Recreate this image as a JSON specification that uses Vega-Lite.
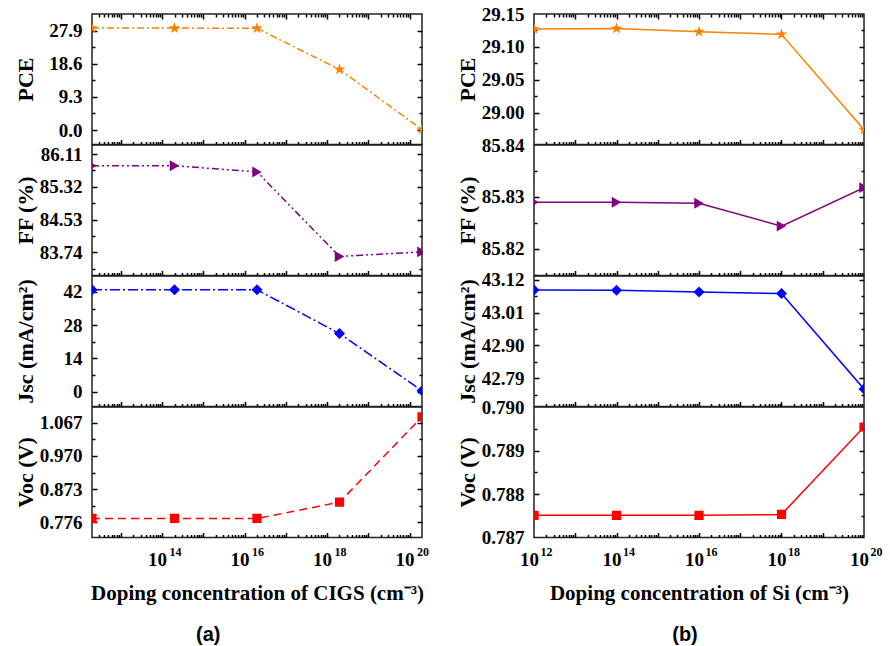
{
  "$schema": "https://vega.github.io/schema/vega-lite/v6.json",
  "padding": {"left": 13, "top": 4, "right": 5, "bottom": 2},
  "datasets": {
    "a": [
      {"conc": 2e12, "PCE": 28.6, "FF": 85.83, "Jsc": 42.95, "Voc": 0.7876},
      {"conc": 2e14, "PCE": 28.6, "FF": 85.83, "Jsc": 42.95, "Voc": 0.7876},
      {"conc": 2e16, "PCE": 28.55, "FF": 85.68, "Jsc": 42.9, "Voc": 0.7876},
      {"conc": 2e18, "PCE": 17.0, "FF": 83.64, "Jsc": 24.5, "Voc": 0.835},
      {"conc": 2e20, "PCE": 0.15, "FF": 83.75, "Jsc": 0.4, "Voc": 1.084}
    ],
    "b": [
      {"conc": 1e12, "PCE": 29.127, "FF": 85.829, "Jsc": 43.086, "Voc": 0.78751},
      {"conc": 1e14, "PCE": 29.128, "FF": 85.829, "Jsc": 43.085, "Voc": 0.78751},
      {"conc": 1e16, "PCE": 29.123, "FF": 85.8288, "Jsc": 43.079, "Voc": 0.78751},
      {"conc": 1e18, "PCE": 29.119, "FF": 85.8244, "Jsc": 43.074, "Voc": 0.78753},
      {"conc": 1e20, "PCE": 28.974, "FF": 85.8318, "Jsc": 42.754, "Voc": 0.78954}
    ]
  },
  "hconcat": [
    {
      "vconcat": [
        {
          "width": 330, "height": 130.5, "data": {"name": "a"},
          "layer": [
            {"mark": {"type": "line", "color": "#FF8000", "strokeWidth": 1.5, "strokeDash": [7, 3, 2, 3], "clip": true},
             "encoding": {
               "x": {"field": "conc", "type": "quantitative", "scale": {"type": "log", "domain": [2e12, 2e20]},
                     "axis": {"orient": "bottom", "labels": false, "title": null, "tickSize": 3, "offset": -3, "values": [3e12,4e12,5e12,6e12,7e12,8e12,9e12,2e13,3e13,4e13,5e13,6e13,7e13,8e13,9e13,2e14,3e14,4e14,5e14,6e14,7e14,8e14,9e14,2e15,3e15,4e15,5e15,6e15,7e15,8e15,9e15,2e16,3e16,4e16,5e16,6e16,7e16,8e16,9e16,2e17,3e17,4e17,5e17,6e17,7e17,8e17,9e17,2e18,3e18,4e18,5e18,6e18,7e18,8e18,9e18,2e19,3e19,4e19,5e19,6e19,7e19,8e19,9e19]}},
               "y": {"field": "PCE", "type": "quantitative", "scale": {"domain": [-4.05, 32.55], "nice": false, "zero": false},
                     "axis": {"orient": "left", "labels": false, "title": null, "tickSize": 3, "offset": -3, "values": [4.65, 13.95, 23.25]}}
             }},
            {"mark": {"type": "point", "shape": "M0,-1L0.2245,-0.309L0.9511,-0.309L0.3633,0.118L0.5878,0.809L0,0.382L-0.5878,0.809L-0.3633,0.118L-0.9511,-0.309L-0.2245,-0.309Z", "filled": true, "opacity": 1, "size": 150, "color": "#FF8000", "clip": true},
             "encoding": {
               "x": {"field": "conc", "type": "quantitative", "scale": {"type": "log", "domain": [2e12, 2e20]},
                     "axis": {"orient": "bottom", "labels": false, "title": null, "tickSize": 5, "offset": -5, "values": [1e13,1e14,1e15,1e16,1e17,1e18,1e19,1e20]}},
               "y": {"field": "PCE", "type": "quantitative", "scale": {"domain": [-4.05, 32.55], "nice": false, "zero": false},
                     "axis": {"orient": "left", "labels": false, "title": null, "tickSize": 5, "offset": -5, "values": [0, 9.3, 18.6, 27.9]}}
             }},
            {"mark": {"type": "point", "opacity": 0, "size": 1},
             "encoding": {
               "x": {"field": "conc", "type": "quantitative", "scale": {"type": "log", "domain": [2e12, 2e20]},
                     "axis": {"orient": "top", "labels": false, "title": null, "tickSize": 5, "offset": -5, "values": [1e13,1e14,1e15,1e16,1e17,1e18,1e19,1e20]}},
               "y": {"field": "PCE", "type": "quantitative", "scale": {"domain": [-4.05, 32.55], "nice": false, "zero": false},
                     "axis": {"orient": "right", "labels": false, "title": null, "tickSize": 5, "offset": -5, "values": [0, 9.3, 18.6, 27.9]}}
             }},
            {"mark": {"type": "point", "opacity": 0, "size": 1},
             "encoding": {
               "x": {"field": "conc", "type": "quantitative", "scale": {"type": "log", "domain": [2e12, 2e20]},
                     "axis": {"orient": "top", "labels": false, "title": null, "tickSize": 3, "offset": -3, "values": [3e12,4e12,5e12,6e12,7e12,8e12,9e12,2e13,3e13,4e13,5e13,6e13,7e13,8e13,9e13,2e14,3e14,4e14,5e14,6e14,7e14,8e14,9e14,2e15,3e15,4e15,5e15,6e15,7e15,8e15,9e15,2e16,3e16,4e16,5e16,6e16,7e16,8e16,9e16,2e17,3e17,4e17,5e17,6e17,7e17,8e17,9e17,2e18,3e18,4e18,5e18,6e18,7e18,8e18,9e18,2e19,3e19,4e19,5e19,6e19,7e19,8e19,9e19]}},
               "y": {"field": "PCE", "type": "quantitative", "scale": {"domain": [-4.05, 32.55], "nice": false, "zero": false},
                     "axis": {"orient": "right", "labels": false, "title": null, "tickSize": 3, "offset": -3, "values": [4.65, 13.95, 23.25]}}
             }},
            {"mark": {"type": "point", "opacity": 0, "size": 1},
             "encoding": {
               "x": {"field": "conc", "type": "quantitative", "scale": {"type": "log", "domain": [2e12, 2e20]}, "axis": null},
               "y": {"field": "PCE", "type": "quantitative", "scale": {"domain": [-4.05, 32.55], "nice": false, "zero": false},
                     "axis": {"orient": "left", "ticks": false, "title": "PCE", "format": ".1f", "values": [0, 9.3, 18.6, 27.9]}}
             }}
          ],
          "resolve": {"axis": {"x": "independent", "y": "independent"}}
        },
        {
          "width": 330, "height": 130.5, "data": {"name": "a"},
          "layer": [
            {"mark": {"type": "line", "color": "#800080", "strokeWidth": 1.5, "strokeDash": [7, 3, 2, 3, 2, 3], "clip": true},
             "encoding": {
               "x": {"field": "conc", "type": "quantitative", "scale": {"type": "log", "domain": [2e12, 2e20]},
                     "axis": {"orient": "bottom", "labels": false, "title": null, "tickSize": 3, "offset": -3, "values": [3e12,4e12,5e12,6e12,7e12,8e12,9e12,2e13,3e13,4e13,5e13,6e13,7e13,8e13,9e13,2e14,3e14,4e14,5e14,6e14,7e14,8e14,9e14,2e15,3e15,4e15,5e15,6e15,7e15,8e15,9e15,2e16,3e16,4e16,5e16,6e16,7e16,8e16,9e16,2e17,3e17,4e17,5e17,6e17,7e17,8e17,9e17,2e18,3e18,4e18,5e18,6e18,7e18,8e18,9e18,2e19,3e19,4e19,5e19,6e19,7e19,8e19,9e19]}},
               "y": {"field": "FF", "type": "quantitative", "scale": {"domain": [83.18, 86.33], "nice": false, "zero": false},
                     "axis": {"orient": "left", "labels": false, "title": null, "tickSize": 3, "offset": -3, "values": [83.345, 84.135, 84.925, 85.715]}}
             }},
            {"mark": {"type": "point", "shape": "triangle-right", "filled": true, "opacity": 1, "size": 120, "color": "#800080", "clip": true},
             "encoding": {
               "x": {"field": "conc", "type": "quantitative", "scale": {"type": "log", "domain": [2e12, 2e20]},
                     "axis": {"orient": "bottom", "labels": false, "title": null, "tickSize": 5, "offset": -5, "values": [1e13,1e14,1e15,1e16,1e17,1e18,1e19,1e20]}},
               "y": {"field": "FF", "type": "quantitative", "scale": {"domain": [83.18, 86.33], "nice": false, "zero": false},
                     "axis": {"orient": "left", "labels": false, "title": null, "tickSize": 5, "offset": -5, "values": [83.74, 84.53, 85.32, 86.11]}}
             }},
            {"mark": {"type": "point", "opacity": 0, "size": 1},
             "encoding": {
               "x": {"field": "conc", "type": "quantitative", "scale": {"type": "log", "domain": [2e12, 2e20]}, "axis": null},
               "y": {"field": "FF", "type": "quantitative", "scale": {"domain": [83.18, 86.33], "nice": false, "zero": false},
                     "axis": {"orient": "right", "labels": false, "title": null, "tickSize": 5, "offset": -5, "values": [83.74, 84.53, 85.32, 86.11]}}
             }},
            {"mark": {"type": "point", "opacity": 0, "size": 1},
             "encoding": {
               "x": {"field": "conc", "type": "quantitative", "scale": {"type": "log", "domain": [2e12, 2e20]}, "axis": null},
               "y": {"field": "FF", "type": "quantitative", "scale": {"domain": [83.18, 86.33], "nice": false, "zero": false},
                     "axis": {"orient": "right", "labels": false, "title": null, "tickSize": 3, "offset": -3, "values": [83.345, 84.135, 84.925, 85.715]}}
             }},
            {"mark": {"type": "point", "opacity": 0, "size": 1},
             "encoding": {
               "x": {"field": "conc", "type": "quantitative", "scale": {"type": "log", "domain": [2e12, 2e20]}, "axis": null},
               "y": {"field": "FF", "type": "quantitative", "scale": {"domain": [83.18, 86.33], "nice": false, "zero": false},
                     "axis": {"orient": "left", "ticks": false, "title": "FF (%)", "format": ".2f", "values": [83.74, 84.53, 85.32, 86.11]}}
             }}
          ],
          "resolve": {"axis": {"x": "independent", "y": "independent"}}
        },
        {
          "width": 330, "height": 130.5, "data": {"name": "a"},
          "layer": [
            {"mark": {"type": "line", "color": "#0000FF", "strokeWidth": 1.5, "strokeDash": [10, 3, 2, 3], "clip": true},
             "encoding": {
               "x": {"field": "conc", "type": "quantitative", "scale": {"type": "log", "domain": [2e12, 2e20]},
                     "axis": {"orient": "bottom", "labels": false, "title": null, "tickSize": 3, "offset": -3, "values": [3e12,4e12,5e12,6e12,7e12,8e12,9e12,2e13,3e13,4e13,5e13,6e13,7e13,8e13,9e13,2e14,3e14,4e14,5e14,6e14,7e14,8e14,9e14,2e15,3e15,4e15,5e15,6e15,7e15,8e15,9e15,2e16,3e16,4e16,5e16,6e16,7e16,8e16,9e16,2e17,3e17,4e17,5e17,6e17,7e17,8e17,9e17,2e18,3e18,4e18,5e18,6e18,7e18,8e18,9e18,2e19,3e19,4e19,5e19,6e19,7e19,8e19,9e19]}},
               "y": {"field": "Jsc", "type": "quantitative", "scale": {"domain": [-6.2, 48.7], "nice": false, "zero": false},
                     "axis": {"orient": "left", "labels": false, "title": null, "tickSize": 3, "offset": -3, "values": [7, 21, 35]}}
             }},
            {"mark": {"type": "point", "shape": "diamond", "filled": true, "opacity": 1, "size": 120, "color": "#0000FF", "clip": true},
             "encoding": {
               "x": {"field": "conc", "type": "quantitative", "scale": {"type": "log", "domain": [2e12, 2e20]},
                     "axis": {"orient": "bottom", "labels": false, "title": null, "tickSize": 5, "offset": -5, "values": [1e13,1e14,1e15,1e16,1e17,1e18,1e19,1e20]}},
               "y": {"field": "Jsc", "type": "quantitative", "scale": {"domain": [-6.2, 48.7], "nice": false, "zero": false},
                     "axis": {"orient": "left", "labels": false, "title": null, "tickSize": 5, "offset": -5, "values": [0, 14, 28, 42]}}
             }},
            {"mark": {"type": "point", "opacity": 0, "size": 1},
             "encoding": {
               "x": {"field": "conc", "type": "quantitative", "scale": {"type": "log", "domain": [2e12, 2e20]}, "axis": null},
               "y": {"field": "Jsc", "type": "quantitative", "scale": {"domain": [-6.2, 48.7], "nice": false, "zero": false},
                     "axis": {"orient": "right", "labels": false, "title": null, "tickSize": 5, "offset": -5, "values": [0, 14, 28, 42]}}
             }},
            {"mark": {"type": "point", "opacity": 0, "size": 1},
             "encoding": {
               "x": {"field": "conc", "type": "quantitative", "scale": {"type": "log", "domain": [2e12, 2e20]}, "axis": null},
               "y": {"field": "Jsc", "type": "quantitative", "scale": {"domain": [-6.2, 48.7], "nice": false, "zero": false},
                     "axis": {"orient": "right", "labels": false, "title": null, "tickSize": 3, "offset": -3, "values": [7, 21, 35]}}
             }},
            {"mark": {"type": "point", "opacity": 0, "size": 1},
             "encoding": {
               "x": {"field": "conc", "type": "quantitative", "scale": {"type": "log", "domain": [2e12, 2e20]}, "axis": null},
               "y": {"field": "Jsc", "type": "quantitative", "scale": {"domain": [-6.2, 48.7], "nice": false, "zero": false},
                     "axis": {"orient": "left", "ticks": false, "title": "Jsc (mA/cm²)", "format": "d", "values": [0, 14, 28, 42]}}
             }}
          ],
          "resolve": {"axis": {"x": "independent", "y": "independent"}}
        },
        {
          "width": 330, "height": 130.5, "data": {"name": "a"},
          "layer": [
            {"mark": {"type": "line", "color": "#FF0000", "strokeWidth": 1.5, "strokeDash": [8, 5], "clip": true},
             "encoding": {
               "x": {"field": "conc", "type": "quantitative", "scale": {"type": "log", "domain": [2e12, 2e20]},
                     "axis": {"orient": "bottom", "labels": false, "title": null, "tickSize": 3, "offset": -3, "values": [3e12,4e12,5e12,6e12,7e12,8e12,9e12,2e13,3e13,4e13,5e13,6e13,7e13,8e13,9e13,2e14,3e14,4e14,5e14,6e14,7e14,8e14,9e14,2e15,3e15,4e15,5e15,6e15,7e15,8e15,9e15,2e16,3e16,4e16,5e16,6e16,7e16,8e16,9e16,2e17,3e17,4e17,5e17,6e17,7e17,8e17,9e17,2e18,3e18,4e18,5e18,6e18,7e18,8e18,9e18,2e19,3e19,4e19,5e19,6e19,7e19,8e19,9e19]}},
               "y": {"field": "Voc", "type": "quantitative", "scale": {"domain": [0.732, 1.113], "nice": false, "zero": false},
                     "axis": {"orient": "left", "labels": false, "title": null, "tickSize": 3, "offset": -3, "values": [0.8245, 0.9215, 1.0185]}}
             }},
            {"mark": {"type": "point", "shape": "square", "filled": true, "opacity": 1, "size": 85, "color": "#FF0000", "clip": true},
             "encoding": {
               "x": {"field": "conc", "type": "quantitative", "scale": {"type": "log", "domain": [2e12, 2e20]},
                     "axis": {"orient": "bottom", "labels": false, "title": null, "tickSize": 5, "offset": -5, "values": [1e13,1e14,1e15,1e16,1e17,1e18,1e19,1e20]}},
               "y": {"field": "Voc", "type": "quantitative", "scale": {"domain": [0.732, 1.113], "nice": false, "zero": false},
                     "axis": {"orient": "left", "labels": false, "title": null, "tickSize": 5, "offset": -5, "values": [0.776, 0.873, 0.97, 1.067]}}
             }},
            {"mark": {"type": "point", "opacity": 0, "size": 1},
             "encoding": {
               "x": {"field": "conc", "type": "quantitative", "scale": {"type": "log", "domain": [2e12, 2e20]},
                     "axis": {"orient": "bottom", "ticks": false, "title": null, "values": [1e14, 1e16, 1e18, 1e20], "labelExpr": "round(log(datum.value)/LN10) + ''", "labelFontSize": 12, "labelPadding": 9, "labelOffset": 13}},
               "y": {"field": "Voc", "type": "quantitative", "scale": {"domain": [0.732, 1.113], "nice": false, "zero": false},
                     "axis": {"orient": "right", "labels": false, "title": null, "tickSize": 5, "offset": -5, "values": [0.776, 0.873, 0.97, 1.067]}}
             }},
            {"mark": {"type": "point", "opacity": 0, "size": 1},
             "encoding": {
               "x": {"field": "conc", "type": "quantitative", "scale": {"type": "log", "domain": [2e12, 2e20]}, "axis": null},
               "y": {"field": "Voc", "type": "quantitative", "scale": {"domain": [0.732, 1.113], "nice": false, "zero": false},
                     "axis": {"orient": "right", "labels": false, "title": null, "tickSize": 3, "offset": -3, "values": [0.8245, 0.9215, 1.0185]}}
             }},
            {"mark": {"type": "point", "opacity": 0, "size": 1},
             "encoding": {
               "x": {"field": "conc", "type": "quantitative", "scale": {"type": "log", "domain": [2e12, 2e20]},
                     "axis": {"orient": "bottom", "ticks": false, "title": "Doping concentration of CIGS  (cm⁻³)", "values": [1e14, 1e16, 1e18, 1e20], "labelExpr": "'10'", "labelFontSize": 19, "labelPadding": 13, "labelOffset": -5}},
               "y": {"field": "Voc", "type": "quantitative", "scale": {"domain": [0.732, 1.113], "nice": false, "zero": false},
                     "axis": {"orient": "left", "ticks": false, "title": "Voc (V)", "format": ".3f", "values": [0.776, 0.873, 0.97, 1.067]}}
             }}
          ],
          "resolve": {"axis": {"x": "independent", "y": "independent"}}
        }
      ],
      "spacing": 0,
      "bounds": "flush",
      "title": {"text": "(a)", "orient": "bottom", "anchor": "middle", "offset": 21, "dx": -13, "font": "Liberation Sans", "fontSize": 20, "fontWeight": "bold", "color": "black"}
    },
    {
      "vconcat": [
        {
          "width": 330, "height": 130.5, "data": {"name": "b"},
          "layer": [
            {"mark": {"type": "line", "color": "#FF8000", "strokeWidth": 1.5, "clip": true},
             "encoding": {
               "x": {"field": "conc", "type": "quantitative", "scale": {"type": "log", "domain": [1e12, 1e20]},
                     "axis": {"orient": "bottom", "labels": false, "title": null, "tickSize": 3, "offset": -3, "values": [2e12,3e12,4e12,5e12,6e12,7e12,8e12,9e12,2e13,3e13,4e13,5e13,6e13,7e13,8e13,9e13,2e14,3e14,4e14,5e14,6e14,7e14,8e14,9e14,2e15,3e15,4e15,5e15,6e15,7e15,8e15,9e15,2e16,3e16,4e16,5e16,6e16,7e16,8e16,9e16,2e17,3e17,4e17,5e17,6e17,7e17,8e17,9e17,2e18,3e18,4e18,5e18,6e18,7e18,8e18,9e18,2e19,3e19,4e19,5e19,6e19,7e19,8e19,9e19]}},
               "y": {"field": "PCE", "type": "quantitative", "scale": {"domain": [28.9515, 29.15], "nice": false, "zero": false},
                     "axis": {"orient": "left", "labels": false, "title": null, "tickSize": 3, "offset": -3, "values": [28.975, 29.025, 29.075, 29.125]}}
             }},
            {"mark": {"type": "point", "shape": "M0,-1L0.2245,-0.309L0.9511,-0.309L0.3633,0.118L0.5878,0.809L0,0.382L-0.5878,0.809L-0.3633,0.118L-0.9511,-0.309L-0.2245,-0.309Z", "filled": true, "opacity": 1, "size": 150, "color": "#FF8000", "clip": true},
             "encoding": {
               "x": {"field": "conc", "type": "quantitative", "scale": {"type": "log", "domain": [1e12, 1e20]},
                     "axis": {"orient": "bottom", "labels": false, "title": null, "tickSize": 5, "offset": -5, "values": [1e13,1e14,1e15,1e16,1e17,1e18,1e19]}},
               "y": {"field": "PCE", "type": "quantitative", "scale": {"domain": [28.9515, 29.15], "nice": false, "zero": false},
                     "axis": {"orient": "left", "labels": false, "title": null, "tickSize": 5, "offset": -5, "values": [29, 29.05, 29.1]}}
             }},
            {"mark": {"type": "point", "opacity": 0, "size": 1},
             "encoding": {
               "x": {"field": "conc", "type": "quantitative", "scale": {"type": "log", "domain": [1e12, 1e20]},
                     "axis": {"orient": "top", "labels": false, "title": null, "tickSize": 5, "offset": -5, "values": [1e13,1e14,1e15,1e16,1e17,1e18,1e19]}},
               "y": {"field": "PCE", "type": "quantitative", "scale": {"domain": [28.9515, 29.15], "nice": false, "zero": false},
                     "axis": {"orient": "right", "labels": false, "title": null, "tickSize": 5, "offset": -5, "values": [29, 29.05, 29.1]}}
             }},
            {"mark": {"type": "point", "opacity": 0, "size": 1},
             "encoding": {
               "x": {"field": "conc", "type": "quantitative", "scale": {"type": "log", "domain": [1e12, 1e20]},
                     "axis": {"orient": "top", "labels": false, "title": null, "tickSize": 3, "offset": -3, "values": [2e12,3e12,4e12,5e12,6e12,7e12,8e12,9e12,2e13,3e13,4e13,5e13,6e13,7e13,8e13,9e13,2e14,3e14,4e14,5e14,6e14,7e14,8e14,9e14,2e15,3e15,4e15,5e15,6e15,7e15,8e15,9e15,2e16,3e16,4e16,5e16,6e16,7e16,8e16,9e16,2e17,3e17,4e17,5e17,6e17,7e17,8e17,9e17,2e18,3e18,4e18,5e18,6e18,7e18,8e18,9e18,2e19,3e19,4e19,5e19,6e19,7e19,8e19,9e19]}},
               "y": {"field": "PCE", "type": "quantitative", "scale": {"domain": [28.9515, 29.15], "nice": false, "zero": false},
                     "axis": {"orient": "right", "labels": false, "title": null, "tickSize": 3, "offset": -3, "values": [28.975, 29.025, 29.075, 29.125]}}
             }},
            {"mark": {"type": "point", "opacity": 0, "size": 1},
             "encoding": {
               "x": {"field": "conc", "type": "quantitative", "scale": {"type": "log", "domain": [1e12, 1e20]}, "axis": null},
               "y": {"field": "PCE", "type": "quantitative", "scale": {"domain": [28.9515, 29.15], "nice": false, "zero": false},
                     "axis": {"orient": "left", "ticks": false, "title": "PCE", "format": ".2f", "values": [29, 29.05, 29.1, 29.15]}}
             }}
          ],
          "resolve": {"axis": {"x": "independent", "y": "independent"}}
        },
        {
          "width": 330, "height": 130.5, "data": {"name": "b"},
          "layer": [
            {"mark": {"type": "line", "color": "#800080", "strokeWidth": 1.5, "clip": true},
             "encoding": {
               "x": {"field": "conc", "type": "quantitative", "scale": {"type": "log", "domain": [1e12, 1e20]},
                     "axis": {"orient": "bottom", "labels": false, "title": null, "tickSize": 3, "offset": -3, "values": [2e12,3e12,4e12,5e12,6e12,7e12,8e12,9e12,2e13,3e13,4e13,5e13,6e13,7e13,8e13,9e13,2e14,3e14,4e14,5e14,6e14,7e14,8e14,9e14,2e15,3e15,4e15,5e15,6e15,7e15,8e15,9e15,2e16,3e16,4e16,5e16,6e16,7e16,8e16,9e16,2e17,3e17,4e17,5e17,6e17,7e17,8e17,9e17,2e18,3e18,4e18,5e18,6e18,7e18,8e18,9e18,2e19,3e19,4e19,5e19,6e19,7e19,8e19,9e19]}},
               "y": {"field": "FF", "type": "quantitative", "scale": {"domain": [85.8149, 85.84], "nice": false, "zero": false},
                     "axis": {"orient": "left", "labels": false, "title": null, "tickSize": 3, "offset": -3, "values": [85.815, 85.825, 85.835]}}
             }},
            {"mark": {"type": "point", "shape": "triangle-right", "filled": true, "opacity": 1, "size": 120, "color": "#800080", "clip": true},
             "encoding": {
               "x": {"field": "conc", "type": "quantitative", "scale": {"type": "log", "domain": [1e12, 1e20]},
                     "axis": {"orient": "bottom", "labels": false, "title": null, "tickSize": 5, "offset": -5, "values": [1e13,1e14,1e15,1e16,1e17,1e18,1e19]}},
               "y": {"field": "FF", "type": "quantitative", "scale": {"domain": [85.8149, 85.84], "nice": false, "zero": false},
                     "axis": {"orient": "left", "labels": false, "title": null, "tickSize": 5, "offset": -5, "values": [85.82, 85.83]}}
             }},
            {"mark": {"type": "point", "opacity": 0, "size": 1},
             "encoding": {
               "x": {"field": "conc", "type": "quantitative", "scale": {"type": "log", "domain": [1e12, 1e20]}, "axis": null},
               "y": {"field": "FF", "type": "quantitative", "scale": {"domain": [85.8149, 85.84], "nice": false, "zero": false},
                     "axis": {"orient": "right", "labels": false, "title": null, "tickSize": 5, "offset": -5, "values": [85.82, 85.83]}}
             }},
            {"mark": {"type": "point", "opacity": 0, "size": 1},
             "encoding": {
               "x": {"field": "conc", "type": "quantitative", "scale": {"type": "log", "domain": [1e12, 1e20]}, "axis": null},
               "y": {"field": "FF", "type": "quantitative", "scale": {"domain": [85.8149, 85.84], "nice": false, "zero": false},
                     "axis": {"orient": "right", "labels": false, "title": null, "tickSize": 3, "offset": -3, "values": [85.815, 85.825, 85.835]}}
             }},
            {"mark": {"type": "point", "opacity": 0, "size": 1},
             "encoding": {
               "x": {"field": "conc", "type": "quantitative", "scale": {"type": "log", "domain": [1e12, 1e20]}, "axis": null},
               "y": {"field": "FF", "type": "quantitative", "scale": {"domain": [85.8149, 85.84], "nice": false, "zero": false},
                     "axis": {"orient": "left", "ticks": false, "title": "FF (%)", "format": ".2f", "values": [85.82, 85.83, 85.84]}}
             }}
          ],
          "resolve": {"axis": {"x": "independent", "y": "independent"}}
        },
        {
          "width": 330, "height": 130.5, "data": {"name": "b"},
          "layer": [
            {"mark": {"type": "line", "color": "#0000FF", "strokeWidth": 1.5, "clip": true},
             "encoding": {
               "x": {"field": "conc", "type": "quantitative", "scale": {"type": "log", "domain": [1e12, 1e20]},
                     "axis": {"orient": "bottom", "labels": false, "title": null, "tickSize": 3, "offset": -3, "values": [2e12,3e12,4e12,5e12,6e12,7e12,8e12,9e12,2e13,3e13,4e13,5e13,6e13,7e13,8e13,9e13,2e14,3e14,4e14,5e14,6e14,7e14,8e14,9e14,2e15,3e15,4e15,5e15,6e15,7e15,8e15,9e15,2e16,3e16,4e16,5e16,6e16,7e16,8e16,9e16,2e17,3e17,4e17,5e17,6e17,7e17,8e17,9e17,2e18,3e18,4e18,5e18,6e18,7e18,8e18,9e18,2e19,3e19,4e19,5e19,6e19,7e19,8e19,9e19]}},
               "y": {"field": "Jsc", "type": "quantitative", "scale": {"domain": [42.695, 43.133], "nice": false, "zero": false},
                     "axis": {"orient": "left", "labels": false, "title": null, "tickSize": 3, "offset": -3, "values": [42.735, 42.845, 42.955, 43.065]}}
             }},
            {"mark": {"type": "point", "shape": "diamond", "filled": true, "opacity": 1, "size": 120, "color": "#0000FF", "clip": true},
             "encoding": {
               "x": {"field": "conc", "type": "quantitative", "scale": {"type": "log", "domain": [1e12, 1e20]},
                     "axis": {"orient": "bottom", "labels": false, "title": null, "tickSize": 5, "offset": -5, "values": [1e13,1e14,1e15,1e16,1e17,1e18,1e19]}},
               "y": {"field": "Jsc", "type": "quantitative", "scale": {"domain": [42.695, 43.133], "nice": false, "zero": false},
                     "axis": {"orient": "left", "labels": false, "title": null, "tickSize": 5, "offset": -5, "values": [42.79, 42.9, 43.01, 43.12]}}
             }},
            {"mark": {"type": "point", "opacity": 0, "size": 1},
             "encoding": {
               "x": {"field": "conc", "type": "quantitative", "scale": {"type": "log", "domain": [1e12, 1e20]}, "axis": null},
               "y": {"field": "Jsc", "type": "quantitative", "scale": {"domain": [42.695, 43.133], "nice": false, "zero": false},
                     "axis": {"orient": "right", "labels": false, "title": null, "tickSize": 5, "offset": -5, "values": [42.79, 42.9, 43.01, 43.12]}}
             }},
            {"mark": {"type": "point", "opacity": 0, "size": 1},
             "encoding": {
               "x": {"field": "conc", "type": "quantitative", "scale": {"type": "log", "domain": [1e12, 1e20]}, "axis": null},
               "y": {"field": "Jsc", "type": "quantitative", "scale": {"domain": [42.695, 43.133], "nice": false, "zero": false},
                     "axis": {"orient": "right", "labels": false, "title": null, "tickSize": 3, "offset": -3, "values": [42.735, 42.845, 42.955, 43.065]}}
             }},
            {"mark": {"type": "point", "opacity": 0, "size": 1},
             "encoding": {
               "x": {"field": "conc", "type": "quantitative", "scale": {"type": "log", "domain": [1e12, 1e20]}, "axis": null},
               "y": {"field": "Jsc", "type": "quantitative", "scale": {"domain": [42.695, 43.133], "nice": false, "zero": false},
                     "axis": {"orient": "left", "ticks": false, "title": "Jsc (mA/cm²)", "format": ".2f", "values": [42.79, 42.9, 43.01, 43.12]}}
             }}
          ],
          "resolve": {"axis": {"x": "independent", "y": "independent"}}
        },
        {
          "width": 330, "height": 130.5, "data": {"name": "b"},
          "layer": [
            {"mark": {"type": "line", "color": "#FF0000", "strokeWidth": 1.5, "clip": true},
             "encoding": {
               "x": {"field": "conc", "type": "quantitative", "scale": {"type": "log", "domain": [1e12, 1e20]},
                     "axis": {"orient": "bottom", "labels": false, "title": null, "tickSize": 3, "offset": -3, "values": [2e12,3e12,4e12,5e12,6e12,7e12,8e12,9e12,2e13,3e13,4e13,5e13,6e13,7e13,8e13,9e13,2e14,3e14,4e14,5e14,6e14,7e14,8e14,9e14,2e15,3e15,4e15,5e15,6e15,7e15,8e15,9e15,2e16,3e16,4e16,5e16,6e16,7e16,8e16,9e16,2e17,3e17,4e17,5e17,6e17,7e17,8e17,9e17,2e18,3e18,4e18,5e18,6e18,7e18,8e18,9e18,2e19,3e19,4e19,5e19,6e19,7e19,8e19,9e19]}},
               "y": {"field": "Voc", "type": "quantitative", "scale": {"domain": [0.787, 0.79], "nice": false, "zero": false},
                     "axis": {"orient": "left", "labels": false, "title": null, "tickSize": 3, "offset": -3, "values": [0.7875, 0.7885, 0.7895]}}
             }},
            {"mark": {"type": "point", "shape": "square", "filled": true, "opacity": 1, "size": 85, "color": "#FF0000", "clip": true},
             "encoding": {
               "x": {"field": "conc", "type": "quantitative", "scale": {"type": "log", "domain": [1e12, 1e20]},
                     "axis": {"orient": "bottom", "labels": false, "title": null, "tickSize": 5, "offset": -5, "values": [1e13,1e14,1e15,1e16,1e17,1e18,1e19]}},
               "y": {"field": "Voc", "type": "quantitative", "scale": {"domain": [0.787, 0.79], "nice": false, "zero": false},
                     "axis": {"orient": "left", "labels": false, "title": null, "tickSize": 5, "offset": -5, "values": [0.788, 0.789]}}
             }},
            {"mark": {"type": "point", "opacity": 0, "size": 1},
             "encoding": {
               "x": {"field": "conc", "type": "quantitative", "scale": {"type": "log", "domain": [1e12, 1e20]},
                     "axis": {"orient": "bottom", "ticks": false, "title": null, "values": [1e12, 1e14, 1e16, 1e18, 1e20], "labelExpr": "round(log(datum.value)/LN10) + ''", "labelFontSize": 12, "labelPadding": 9, "labelOffset": 12}},
               "y": {"field": "Voc", "type": "quantitative", "scale": {"domain": [0.787, 0.79], "nice": false, "zero": false},
                     "axis": {"orient": "right", "labels": false, "title": null, "tickSize": 5, "offset": -5, "values": [0.788, 0.789]}}
             }},
            {"mark": {"type": "point", "opacity": 0, "size": 1},
             "encoding": {
               "x": {"field": "conc", "type": "quantitative", "scale": {"type": "log", "domain": [1e12, 1e20]}, "axis": null},
               "y": {"field": "Voc", "type": "quantitative", "scale": {"domain": [0.787, 0.79], "nice": false, "zero": false},
                     "axis": {"orient": "right", "labels": false, "title": null, "tickSize": 3, "offset": -3, "values": [0.7875, 0.7885, 0.7895]}}
             }},
            {"mark": {"type": "point", "opacity": 0, "size": 1},
             "encoding": {
               "x": {"field": "conc", "type": "quantitative", "scale": {"type": "log", "domain": [1e12, 1e20]},
                     "axis": {"orient": "bottom", "ticks": false, "title": "Doping concentration of Si (cm⁻³)", "values": [1e12, 1e14, 1e16, 1e18, 1e20], "labelExpr": "'10'", "labelFontSize": 19, "labelPadding": 13, "labelOffset": -5}},
               "y": {"field": "Voc", "type": "quantitative", "scale": {"domain": [0.787, 0.79], "nice": false, "zero": false},
                     "axis": {"orient": "left", "ticks": false, "title": "Voc (V)", "format": ".3f", "values": [0.787, 0.788, 0.789, 0.79]}}
             }}
          ],
          "resolve": {"axis": {"x": "independent", "y": "independent"}}
        }
      ],
      "spacing": 0,
      "bounds": "flush",
      "title": {"text": "(b)", "orient": "bottom", "anchor": "middle", "offset": 21, "dx": 16, "font": "Liberation Sans", "fontSize": 20, "fontWeight": "bold", "color": "black"}
    }
  ],
  "spacing": 25,
  "config": {
    "view": {"stroke": "#222222", "strokeWidth": 1.5},
    "axis": {
      "grid": false, "domain": false, "ticks": true, "tickColor": "black", "tickWidth": 1.5, "tickOpacity": 1, "zindex": 1,
      "labelFont": "Liberation Serif", "labelFontWeight": "bold", "labelFontSize": 19, "labelColor": "black",
      "titleFont": "Liberation Serif", "titleFontWeight": "bold", "titleFontSize": 22, "titleColor": "black",
      "labelOverlap": false, "labelFlush": false, "labelBound": false
    },
    "axisLeft": {"labelPadding": 10, "titleX": -67, "titleY": 65, "titleAngle": -90, "titleAlign": "center", "titleBaseline": "middle"},
    "axisBottom": {"titlePadding": 13, "titleFontSize": 21}
  }
}
